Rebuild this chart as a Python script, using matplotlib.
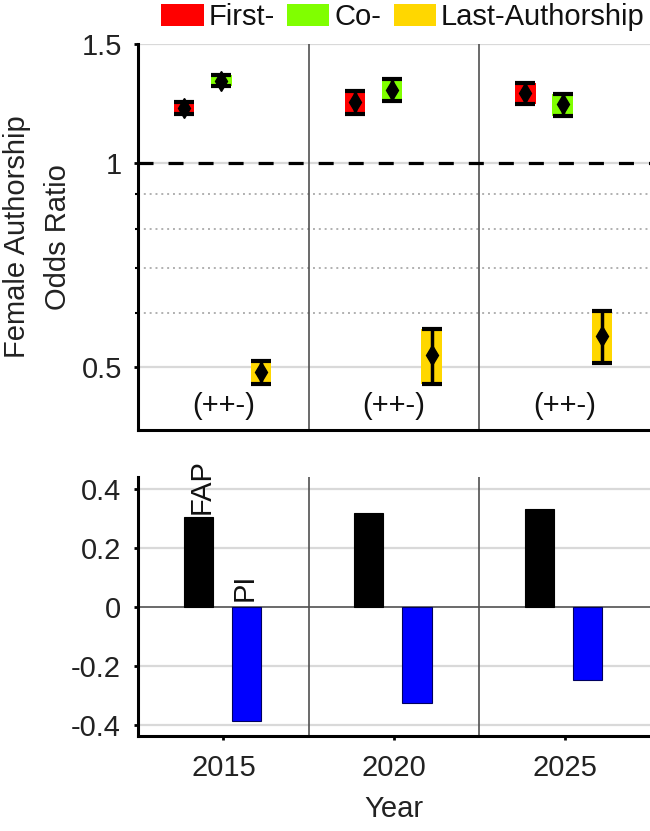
import matplotlib
matplotlib.use("Agg")
import matplotlib.pyplot as plt
import matplotlib.ticker as mticker
from matplotlib.patches import Patch
import numpy as np

plt.rcParams['font.family'] = ['Liberation Sans', 'DejaVu Sans']
plt.rcParams['axes.unicode_minus'] = False

years = [2015, 2020, 2025]
series_names = ["First-", "Co-", "Last-Authorship"]
series_colors = ["#ff0000", "#80ff00", "#ffd700"]
offsets = [-1.15, -0.06, 1.1]

first_or = [1.205, 1.232, 1.270]
first_lo = [1.180, 1.183, 1.222]
first_hi = [1.232, 1.280, 1.315]

co_or = [1.324, 1.284, 1.224]
co_lo = [1.300, 1.235, 1.172]
co_hi = [1.350, 1.333, 1.266]

last_or = [0.492, 0.520, 0.556]
last_lo = [0.472, 0.472, 0.507]
last_hi = [0.510, 0.569, 0.605]

sign_labels = ["(++-)", "(++-)", "(++-)"]

fap = [0.305, 0.319, 0.332]
pi = [-0.389, -0.327, -0.248]
bar_names = ["FAP", "PI"]

fs = 21
tc = '#222222'
fig = plt.figure(figsize=(6.5, 8.31), dpi=100)
ax1 = fig.add_axes([0.2125, 0.4826, 0.7875, 0.4645])
ax2 = fig.add_axes([0.2125, 0.1143, 0.7875, 0.3117])

sep_color = "#505050"
grid_color = "#d9d9d9"

# ---------- top panel ----------
ax1.set_yscale('log')
ax1.set_ylim(0.4035, 1.5)
ax1.set_xlim(2012.5, 2027.5)
for v in [0.5, 1.0, 1.5]:
    ax1.axhline(v, color=grid_color, lw=1.6, zorder=0)
for v in [0.6, 0.7, 0.8, 0.9]:
    ax1.axhline(v, color="#b0b0b0", lw=1.4, ls=(0, (1, 2)), zorder=0)
ax1.axhline(1.0, color='k', lw=2.3, ls=(0, (4.7, 4.7)), zorder=2)
for s in [2017.5, 2022.5]:
    ax1.axvline(s, color=sep_color, lw=1.2, zorder=1)

all_or = [first_or, co_or, last_or]
all_lo = [first_lo, co_lo, last_lo]
all_hi = [first_hi, co_hi, last_hi]
for k in range(3):
    xs = np.array(years) + offsets[k]
    o = np.array(all_or[k]); lo = np.array(all_lo[k]); hi = np.array(all_hi[k])
    ax1.bar(xs, hi - lo, bottom=lo, width=0.6, color=series_colors[k], zorder=3)
    ax1.errorbar(xs, o, yerr=[o - lo, hi - o], fmt='d', color='k', ms=10,
                 capsize=7, capthick=3, elinewidth=2.5, zorder=4)

for y, lab in zip(years, sign_labels):
    ax1.text(y, 0.438, lab, ha='center', va='center', fontsize=fs, color='#111111')

ax1.yaxis.set_major_locator(mticker.FixedLocator([0.5, 1.0, 1.5]))
ax1.yaxis.set_major_formatter(mticker.FixedFormatter(["0.5", "1", "1.5"]))
ax1.yaxis.set_minor_locator(mticker.FixedLocator([0.6, 0.7, 0.8, 0.9]))
ax1.yaxis.set_minor_formatter(mticker.NullFormatter())
ax1.tick_params(axis='y', which='major', direction='out', length=3, width=2,
                pad=8.5, labelsize=fs, labelcolor=tc)
ax1.tick_params(axis='y', which='minor', direction='out', length=2, width=1.5)
ax1.tick_params(axis='x', which='both', bottom=False, labelbottom=False)
for sp in ['top', 'right']:
    ax1.spines[sp].set_visible(False)
for sp in ['left', 'bottom']:
    ax1.spines[sp].set_linewidth(2.2)
ax1.set_ylabel("Female Authorship\nOdds Ratio", fontsize=fs, color=tc,
               labelpad=7, linespacing=1.6)

# legend
handles = [Patch(facecolor=c, edgecolor='none') for c in series_colors]
fig.legend(handles, series_names, loc='upper right', bbox_to_anchor=(1.0095, 1.0105),
           ncol=3, frameon=False, fontsize=fs, handlelength=1.45, handleheight=0.76,
           handletextpad=0.17, columnspacing=0.42, borderaxespad=0.0, labelcolor='#111111')

# ---------- bottom panel ----------
ax2.set_xlim(2012.5, 2027.5)
ax2.set_ylim(-0.439, 0.442)
for v in [-0.4, -0.2, 0.2, 0.4]:
    ax2.axhline(v, color=grid_color, lw=1.6, zorder=0)
ax2.axhline(0, color=sep_color, lw=1.2, zorder=1)
for s in [2017.5, 2022.5]:
    ax2.axvline(s, color=sep_color, lw=1.2, zorder=1)

bx_f = np.array(years) - 0.74
bx_p = np.array(years) + 0.67
ax2.bar(bx_f, fap, width=0.86, color='k', edgecolor='k', lw=0.8, zorder=3)
ax2.bar(bx_p, pi, width=0.86, color='#0000ff', edgecolor='#000060', lw=0.8, zorder=3)
ax2.text(bx_f[0] + 0.1, fap[0] + 0.012, bar_names[0], rotation=90, ha='center', va='bottom',
         fontsize=fs, clip_on=False, color='#111111')
ax2.text(bx_p[0] - 0.05, 0.02, bar_names[1], rotation=90, ha='center', va='bottom',
         fontsize=fs, color='#111111')

ax2.set_xticks(years)
ax2.set_xticklabels([str(y) for y in years])
ax2.set_yticks([-0.4, -0.2, 0, 0.2, 0.4])
ax2.set_yticklabels(["-0.4", "-0.2", "0", "0.2", "0.4"])
ax2.tick_params(axis='y', direction='out', length=3, width=2, pad=9.5, labelsize=fs, labelcolor=tc)
ax2.tick_params(axis='x', direction='out', length=3, width=2, pad=10, labelsize=fs, labelcolor=tc)
for sp in ['top', 'right']:
    ax2.spines[sp].set_visible(False)
for sp in ['left', 'bottom']:
    ax2.spines[sp].set_linewidth(2.2)
ax2.set_xlabel("Year", fontsize=fs, color=tc, labelpad=9)

fig.savefig("out.png", dpi=100)
